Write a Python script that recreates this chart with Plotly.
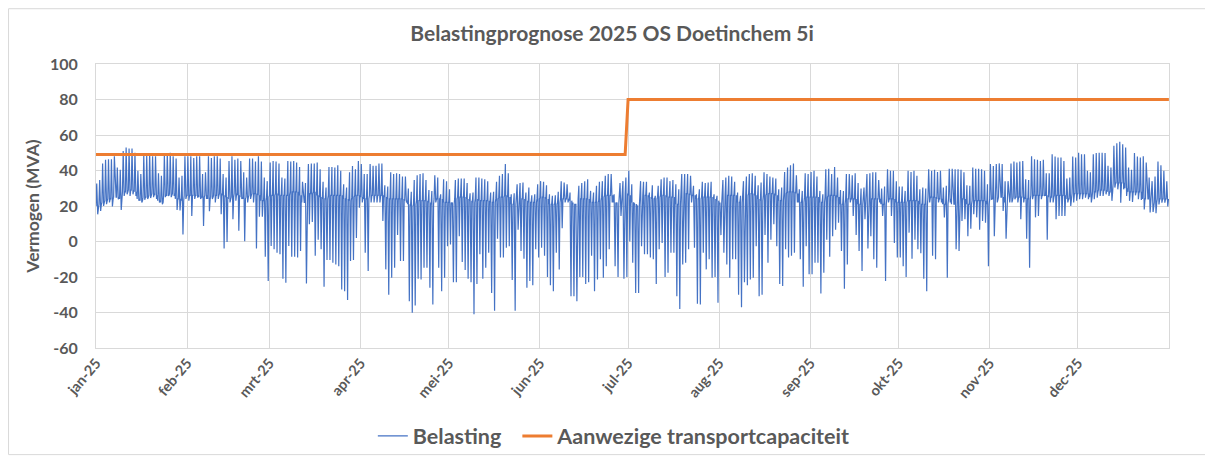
import pandas as pd
import plotly.graph_objects as go


BLUE = "#4472C4"
ORANGE = "#ED7D31"
TEXT_COLOR = "#595959"
GRID_COLOR = "#D9D9D9"
FONT = "Lato"

start_date = "2025-01-01"

# daily peak of the load (MVA)
daily_max = [
    32.6, 34.7, 44, 46, 46.4, 46.4, 48, 41.7, 40.4, 51, 53, 52.4, 52.4, 50, 39.8, 38,
    48.6, 48.6, 49.8, 48, 48, 38.5, 37, 48.6, 49.8, 50, 48, 46.8, 36, 37, 48, 48,
    48, 47, 48, 48, 38, 39, 48, 47, 48, 48, 46.7, 38, 36, 45.4, 48, 46, 46.7,
    45.4, 39, 36, 46.7, 46.7, 45, 48, 45, 36, 34, 44.5, 45.4, 45, 44, 36, 35.5,
    45.4, 45, 45.4, 44.5, 42, 33.6, 33, 43.6, 44, 44, 44.5, 40.7, 33.6, 30.4, 42, 42,
    41.7, 43, 39.8, 32.3, 30.4, 39, 42.6, 40.7, 45.4, 43.6, 38, 38, 43.6, 42.6, 42.6, 44,
    44, 31.7, 31, 39, 38, 38.5, 38, 36.6, 36.6, 29.8, 28, 34.7, 37.3, 38, 38.5, 34.7, 29,
    28.5, 37.3, 36, 26.6, 35, 34, 29.4, 22, 34.7, 35.5, 35.5, 35.5, 33, 27.2, 27.6, 36,
    36, 35.5, 35, 34, 27.6, 28, 33.6, 37, 38, 43.6, 38.5, 26.6, 27.2, 32.3, 33, 33.2,
    27.6, 30.4, 26, 26.6, 32.3, 34, 33.6, 31.7, 26.6, 25.7, 26, 28, 34, 33.2, 32.3, 27.6,
    22, 21, 31.4, 33, 34, 35, 28.5, 27.6, 31.4, 33.6, 34, 37, 38, 38, 26.6, 22,
    33, 34, 36, 39.8, 32.3, 21, 20, 34, 33.6, 33.6, 27.6, 31.7, 25.7, 31.4, 35, 36,
    36, 34, 34.7, 32.3, 29.4, 38, 38, 38, 37, 31.4, 26.6, 29.4, 33.6, 33, 33.2, 33.6, 26.6,
    25.7, 22, 34.7, 36, 37, 36.6, 33.6, 27.6, 25.7, 34, 36.6, 38, 38.5, 37, 31.7, 33.2,
    39, 38, 36.6, 36, 35.5, 29.4, 30.4, 39.2, 41.7, 43, 44, 37.3, 29.4, 28.5, 38.5, 38,
    39.2, 39.8, 36.6, 28.5, 26.6, 40.7, 41, 38, 42, 36, 29, 28.5, 38, 38, 37.3, 38.5,
    33, 29.8, 30.4, 38, 38.5, 39, 39, 34.7, 29.8, 31, 40.7, 39.8, 39.8, 34, 31, 31,
    28.5, 39.8, 39.2, 39.8, 37, 29.4, 30.4, 29.8, 40.7, 39.8, 40.4, 39.2, 39.8, 30.4, 31.4, 41,
    41, 40.7, 40.7, 40.4, 39, 31.7, 31.4, 41.7, 41, 41, 40.7, 39.8, 32.3, 43.6, 42.6, 43.6, 44,
    43.6, 34, 34, 44, 45, 44.5, 45, 45.4, 35, 34.7, 48, 46.4, 46, 45.4, 46, 38.5,
    38.5, 49.2, 47.9, 47.3, 47.3, 45.4, 35.5, 36, 47.9, 47.3, 50, 49.2, 49.2, 39.8, 39, 49.2,
    49.8, 50, 50, 49.8, 42.6, 41.7, 53.9, 55.4, 56.2, 54.8, 53, 41.7, 40.4, 49.8, 47.9, 47.3,
    48, 44.5, 36, 34, 36.6, 45, 43, 39.8, 34,
]

# daily lowest value of the load (MVA)
daily_min = [
    15.3, 17.2, 20, 21, 22, 19.7, 25.7, 23.8, 17.8, 25.7, 26.6, 25.7, 26.6, 25.7, 22.9, 22,
    23.5, 24, 24.5, 25, 24, 22, 21, 25, 25.7, 25, 25.7, 17.8, 17.5, 4, 24, 23,
    14.4, 24, 24.7, 24, 8.7, 24, 17, 24, 22, 24, 15.3, -4, -0.3, 22, 12.5, 23, 6,
    24, 0.2, 22, 24, 22, -4, 14, 14, -8.6, -22.3, -2.5, -4.4, -6.3, -7.2, -21, -23.2,
    -2.5, -8.6, -8.6, -9, -5.4, 22, -23.6, 9.7, 11, -8, 1, -4.4, -25.5, -10.4, -10.4, -12,
    -13, -14, -27, -28, -33, -11, -10.4, 2, 19, 22, -6.3, -16.6, 22, 22, 22, 22,
    11.6, -15.7, -30, -20.4, -14.8, 3.6, -11, -11, 22, -33.6, -40.2, -36, -21, -21.4, -14.8, -14.8, -26,
    -35.5, 22, -14.8, -28, -20.4, -2.6, -1.7, -23, -23, 3, -11.6, -16, -21, -22.9, -41, -24,
    -7.2, -21, -14.8, -6.3, -29, -39, 1.6, -9, -9, -3.5, -2.6, -21.7, -39, 6.6, -5.4, -9.7,
    -26, -22.3, -24.7, -4.4, -9, -3.5, -8, -20, -24.7, -28, -6.3, -15.7, 7.5, 22, 22, -30.8,
    -30.8, -33.6, -20, -20, -24, -23, -8, -28, -21.4, -10, -20.4, -14, -4.4, 22, -14, -20,
    14.4, -21, -20, 0, -12, -29, -29, -2.6, -7.2, -7.2, -9, -10, -24, -4.4, -0.8, -20,
    -17.6, -6.3, -6.3, -30.8, -38, -13, -12, -4.4, 22, -3.5, -35, -35.5, -6.3, -15.7, -10, -20.4, -20,
    -34.5, 3.6, -6.3, -13, -20.4, -10, -10, -30, -37, -23, -24.7, -21.4, -20.4, -2.6, -30.8, -30,
    3.6, -12, 1, 9.7, -2.6, -24, -25, -4.4, -9, -8, -6.3, 22, -10, -25.5, -2.6, -18.5,
    -18.5, -12, -12, -29.3, -17.6, 1, -8.6, 3, 6.6, 10.6, -5.4, -26.6, -13, 22, 14.4, 3.6,
    -5.4, -16.6, 12.5, -4, 3, -10, -14.8, 22, 14.4, -22.3, 22, 14.4, -0.8, -9, -9, -14,
    -20, 5, -9.7, 1, -4.4, -6.6, -21, -28, 22, -8, -10, 22, 22, 13.6, -20.4, 22,
    22, -4.4, -5.4, 11.6, 12.5, 3, 7.2, 15.3, 13.6, 6.6, 11.6, 10.6, -14, 23.8, 3, 22, 25.7,
    17.2, 1.6, 22, 22, 23.8, 22, 12.5, 22, 1.6, -14.8, 23.8, 13.6, 14.4, 23.8, 25.7, 1,
    22, 22, 12.5, 14.4, 14.4, 14.4, 22, 20, 22, 23, 23.8, 23.8, 24.7, 23.8, 22, 23.8,
    24.7, 25.7, 25.7, 26.6, 25.7, 22.9, 30.4, 29.4, 21.9, 29.4, 25.7, 22.9, 22.3, 26, 23.8, 23.4,
    18, 25.7, 16.3, 16.7, 15.9, 20.9, 21.9, 21.9, 19.8,
]

# level the load returns to between the daily swings (MVA)
daily_mid = [
    20, 21, 22, 23, 24, 24, 25, 25, 24, 28, 28, 29, 29, 28, 24, 23,
    25, 25, 26, 27, 26, 23, 22, 26, 26, 27, 27, 24, 24, 23, 26, 26,
    26, 26, 26, 25, 25, 26, 24, 25, 26, 26, 27, 26, 25, 24, 25, 27, 26,
    25, 24, 25, 26, 27, 27, 26, 23, 23, 25, 26, 26, 27, 26, 26, 26,
    26, 28, 28, 28, 26, 22, 22, 27, 27, 28, 26, 25, 24, 24, 26, 26,
    26, 26, 26, 24, 24, 23, 25, 26, 26, 25, 24, 24, 26, 26, 26, 26,
    26, 25, 24, 24, 24, 24, 24, 24, 23, 21, 20, 21, 23, 23, 23, 23, 22,
    21, 24, 24, 24, 22, 22, 22, 21, 24, 25, 25, 25, 24, 23, 22, 24,
    23, 23, 23, 23, 22, 22, 24, 25, 25, 26, 25, 21, 21, 24, 24, 24,
    23, 22, 22, 22, 24, 25, 25, 24, 21, 21, 21, 22, 24, 24, 24, 23,
    21, 21, 24, 24, 24, 24, 22, 22, 22, 23, 25, 26, 26, 26, 22, 21,
    26, 27, 27, 26, 22, 21, 20, 25, 26, 26, 25, 24, 24, 25, 26, 26,
    25, 25, 25, 21, 21, 27, 27, 27, 26, 26, 24, 24, 25, 25, 25, 25, 24,
    23, 21, 26, 26, 26, 26, 26, 22, 22, 26, 26, 27, 27, 26, 24, 23,
    26, 27, 27, 27, 26, 23, 23, 27, 28, 28, 28, 27, 22, 22, 25, 25,
    25, 25, 25, 22, 22, 25, 26, 26, 26, 25, 21, 21, 24, 24, 24, 24,
    21, 21, 24, 24, 24, 24, 24, 24, 21, 21, 24, 24, 24, 22, 22, 22,
    22, 23, 23, 23, 23, 21, 21, 21, 25, 25, 25, 24, 24, 21, 21, 24,
    21, 21, 24, 24, 24, 21, 21, 23, 23, 23, 23, 23, 21, 24, 24, 24, 25,
    25, 22, 22, 25, 25, 25, 25, 25, 24, 24, 26, 26, 26, 26, 26, 26,
    25, 25, 26, 26, 26, 26, 24, 24, 27, 27, 27, 27, 27, 27, 25, 28,
    28, 29, 29, 29, 28, 28, 33, 33, 33, 33, 30, 28, 28, 28, 28, 28,
    24, 24, 24, 22, 22, 24, 24, 24, 24,
]

capacity_dates = ["2025-01-01 00:00", "2025-06-30 00:00", "2025-07-01 00:00", "2025-12-31 23:00"]
capacity_values = [49, 49, 80, 80]

month_starts = [
    "2025-01-01", "2025-02-01", "2025-03-01", "2025-04-01", "2025-05-01", "2025-06-01",
    "2025-07-01", "2025-08-01", "2025-09-01", "2025-10-01", "2025-11-01", "2025-12-01",
]
month_labels = [
    "jan-25", "feb-25", "mrt-25", "apr-25", "mei-25", "jun-25",
    "jul-25", "aug-25", "sep-25", "okt-25", "nov-25", "dec-25",
]
y_ticks = [-60, -40, -20, 0, 20, 40, 60, 80, 100]


# each day: level -> peak -> trough -> level, so the swings show as vertical strokes
days = pd.date_range(start_date, periods=len(daily_max), freq="D")
load_x, load_y = [], []
for day, hi, lo, mid in zip(days, daily_max, daily_min, daily_mid):
    load_x += [day, day + pd.Timedelta(hours=6), day + pd.Timedelta(hours=14),
               day + pd.Timedelta(hours=20)]
    load_y += [mid, hi, lo, mid]

fig = go.Figure()

fig.add_trace(go.Scatter(
    x=load_x,
    y=load_y,
    name="<b>Belasting</b>" + "\u00a0" * 2,
    mode="lines",
    line=dict(color=BLUE, width=1.2),
))

fig.add_trace(go.Scatter(
    x=capacity_dates,
    y=capacity_values,
    name="<b>Aanwezige transportcapaciteit</b>",
    mode="lines",
    line=dict(color=ORANGE, width=3),
))

# the page body adds ~7px offset, margins are set to compensate
fig.update_layout(
    width=1213,
    height=459,
    autosize=False,
    margin=dict(l=88, r=52, t=56, b=118),
    paper_bgcolor="white",
    plot_bgcolor="white",
    font=dict(family=FONT, color=TEXT_COLOR),
    title=dict(
        text="<b>Belastingprognose 2025 OS Doetinchem 5i</b>",
        x=0.498, xref="container", xanchor="center",
        y=0.945, yref="container", yanchor="middle",
        font=dict(size=21, color=TEXT_COLOR),
    ),
    xaxis=dict(
        type="date",
        range=["2025-01-01", "2026-01-01"],
        tickvals=month_starts,
        ticktext=[f"<b>{m}</b>" for m in month_labels],
        tickangle=-50,
        tickfont=dict(size=14.5, color=TEXT_COLOR),
        showgrid=True,
        gridcolor=GRID_COLOR,
        gridwidth=1,
        showline=True,
        linecolor=GRID_COLOR,
        mirror=True,
        zeroline=False,
        ticks="",
    ),
    yaxis=dict(
        range=[-60, 100],
        tickvals=y_ticks,
        ticktext=[f"<b>{v}</b>" for v in y_ticks],
        tickfont=dict(size=16, color=TEXT_COLOR),
        ticklabelstandoff=14,
        title=dict(text="<b>Vermogen (MVA)</b>", font=dict(size=17.5, color=TEXT_COLOR), standoff=5),
        showgrid=True,
        gridcolor=GRID_COLOR,
        gridwidth=1,
        showline=True,
        linecolor=GRID_COLOR,
        mirror=True,
        zeroline=False,
        ticks="",
    ),
    legend=dict(
        orientation="h",
        x=0.258, xanchor="left",
        y=-0.305, yanchor="middle",
        font=dict(size=21.5, color=TEXT_COLOR),
        itemwidth=30,
        bgcolor="rgba(0,0,0,0)",
    ),
    showlegend=True,
)

# light chart-area border, as in the spreadsheet export
fig.add_shape(
    type="rect", xref="paper", yref="paper",
    x0=-0.0815, x1=1.0373, y0=-0.3754, y1=1.1947,
    line=dict(color=GRID_COLOR, width=1),
    fillcolor="rgba(0,0,0,0)",
    layer="below",
)

fig.write_html("out.html")
